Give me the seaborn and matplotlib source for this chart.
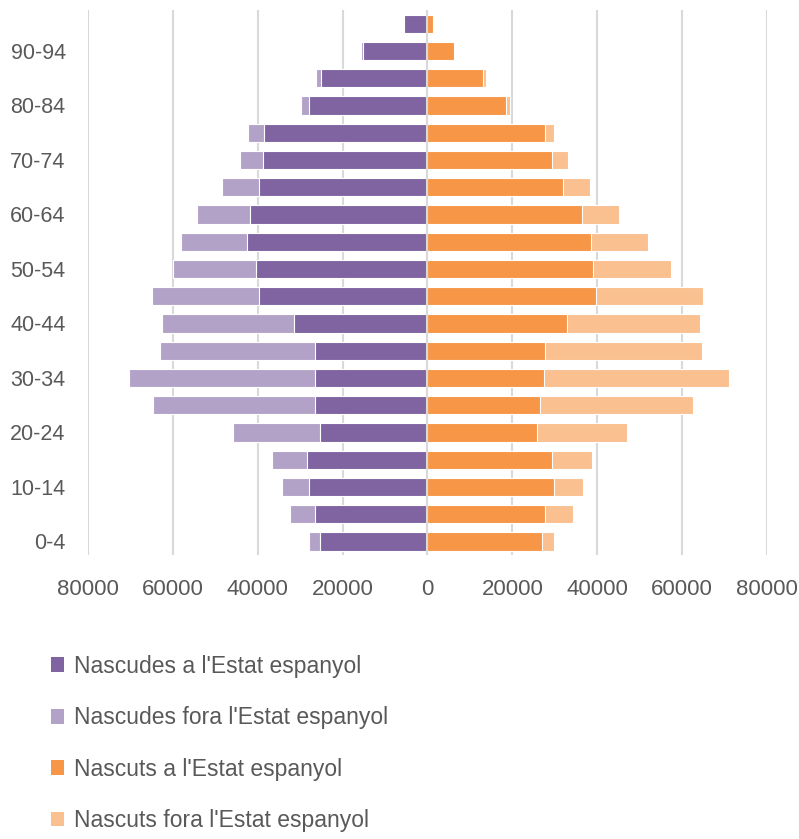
import numpy as np
import pandas as pd
import matplotlib
matplotlib.use("Agg")
import matplotlib.pyplot as plt
from matplotlib.patches import Patch
import seaborn as sns

# grups d'edat, de baix a dalt
edats = ['0-4', '5-9', '10-14', '15-19', '20-24', '25-29', '30-34', '35-39',
         '40-44', '45-49', '50-54', '55-59', '60-64', '65-69', '70-74',
         '75-79', '80-84', '85-89', '90-94', '95+']

# dones
dones_estat = [25200, 26400, 28000, 28400, 25400, 26600, 26500, 26600,
               31400, 39700, 40400, 42400, 41900, 39800, 38700,
               38600, 27800, 25000, 15200, 5500]
dones_fora = [2700, 6000, 6300, 8200, 20300, 38000, 43700, 36300,
              31100, 25100, 19500, 15600, 12400, 8500, 5500,
              3600, 2100, 1200, 400, 300]

# homes
homes_estat = [27100, 27800, 29700, 29400, 25900, 26400, 27500, 27800,
               32800, 39800, 39000, 38600, 36300, 32000, 29300,
               27600, 18400, 13200, 6200, 1400]
homes_fora = [2600, 6400, 6900, 9300, 21100, 36100, 43500, 36800,
              31500, 25000, 18300, 13400, 8900, 6200, 3700,
              2100, 1100, 700, 200, 200]

etiquetes = ["Nascudes a l'Estat espanyol", "Nascudes fora l'Estat espanyol",
             "Nascuts a l'Estat espanyol", "Nascuts fora l'Estat espanyol"]
colors = ['#8064A2', '#B3A2C7', '#F79646', '#FAC090']

df = pd.DataFrame({
    'edat': edats,
    'dones_estat': dones_estat,
    'dones_fora': dones_fora,
    'homes_estat': homes_estat,
    'homes_fora': homes_fora,
})
df['dones_total'] = -(df['dones_estat'] + df['dones_fora'])
df['dones_estat_neg'] = -df['dones_estat']
df['homes_total'] = df['homes_estat'] + df['homes_fora']

ordre = edats[::-1]  # el grup més gran a dalt

sns.set_style('white')
plt.rcParams['font.family'] = ['Liberation Sans', 'DejaVu Sans']
text_color = '#595959'

fig = plt.figure(figsize=(7.99, 8.39), dpi=100)
ax = fig.add_axes([0.110, 0.3385, 0.850, 0.6495])

kw = dict(y='edat', order=ordre, orient='h', width=0.67, saturation=1,
          edgecolor='white', linewidth=0.8, ax=ax, zorder=2)
sns.barplot(data=df, x='dones_total', color=colors[1], **kw)
sns.barplot(data=df, x='dones_estat_neg', color=colors[0], **kw)
sns.barplot(data=df, x='homes_total', color=colors[3], **kw)
sns.barplot(data=df, x='homes_estat', color=colors[2], **kw)

ax.set_xlim(-80000, 80000)
ax.set_ylim(len(ordre) - 0.5, -0.5)
ticks = np.arange(-80000, 80001, 20000)
ax.set_xticks(ticks)
ax.set_xticklabels([str(abs(t)) for t in ticks])
ax.set_yticks(range(len(ordre)))
ax.set_yticklabels([e if i % 2 == 1 else '' for i, e in enumerate(ordre)])
ax.xaxis.grid(True, color='#d9d9d9', linewidth=1.5, zorder=0)
ax.set_axisbelow(True)
ax.axvline(0, color='#d9d9d9', linewidth=1.5, zorder=3)
ax.set_xlabel('')
ax.set_ylabel('')
for s in ax.spines.values():
    s.set_visible(False)
ax.tick_params(axis='x', colors=text_color, labelsize=16, length=0, pad=17)
ax.tick_params(axis='y', colors=text_color, labelsize=15.5, length=0, pad=16)

handles = [Patch(facecolor=c, edgecolor='none') for c in colors]
leg = fig.legend(handles, etiquetes, loc='upper left',
                 bbox_to_anchor=(0.0635, 0.2195), frameon=False,
                 fontsize=16.5, labelcolor=text_color,
                 handlelength=0.58, handleheight=0.62, handletextpad=0.42,
                 labelspacing=1.24, borderaxespad=0, borderpad=0)

fig.savefig('out.png', dpi=100)
